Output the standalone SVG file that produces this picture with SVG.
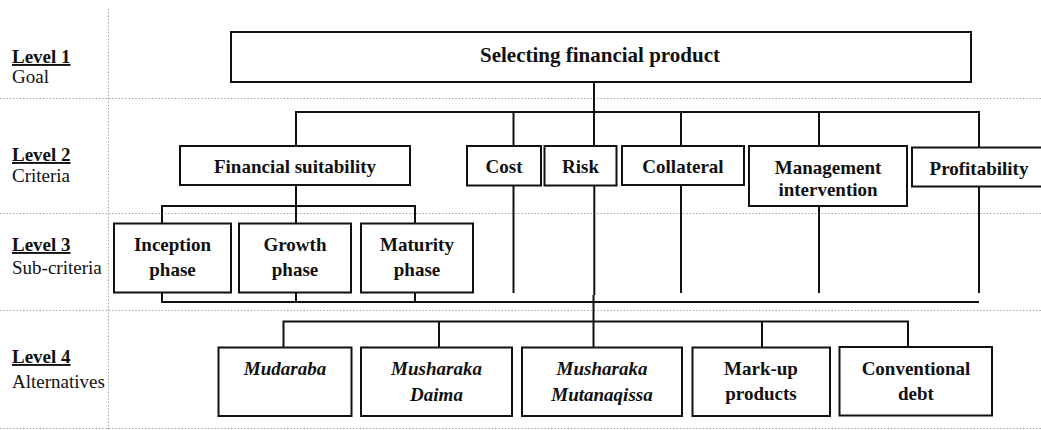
<svg xmlns="http://www.w3.org/2000/svg" width="1041" height="430" viewBox="0 0 1041 430">
  <style>
    .grid { stroke: #9a9a9a; stroke-width: 1; stroke-dasharray: 1.3 2; fill: none; }
    .box { fill: #fff; stroke: #111; stroke-width: 2; }
    .link { stroke: #111; stroke-width: 2; fill: none; }
    .lbl { font-family: "Liberation Serif", "Times New Roman", serif; font-size: 19px; fill: #111; text-anchor: middle; font-weight: bold; }
    .alt { font-style: italic; }
    .lvl { font-family: "Liberation Serif", "Times New Roman", serif; font-size: 19px; fill: #111; }
    .lvl-h { font-weight: bold; text-decoration: underline; }
  </style>

  <!-- level grid -->
  <g id="grid">
    <line class="grid" x1="108.5" y1="9" x2="108.5" y2="430"/>
    <line class="grid" x1="0" y1="98.5" x2="1041" y2="98.5"/>
    <line class="grid" x1="0" y1="213.5" x2="1041" y2="213.5"/>
    <line class="grid" x1="0" y1="310.5" x2="1041" y2="310.5"/>
    <line class="grid" x1="0" y1="428.5" x2="1041" y2="428.5"/>
  </g>

  <!-- level captions -->
  <g id="levels">
    <text class="lvl lvl-h" x="12" y="63">Level 1</text>
    <text class="lvl" x="12" y="83">Goal</text>
    <text class="lvl lvl-h" x="12" y="161">Level 2</text>
    <text class="lvl" x="12" y="182">Criteria</text>
    <text class="lvl lvl-h" x="12" y="251">Level 3</text>
    <text class="lvl" x="12" y="274">Sub-criteria</text>
    <text class="lvl lvl-h" x="12" y="363">Level 4</text>
    <text class="lvl" x="12" y="388">Alternatives</text>
  </g>

  <!-- connectors -->
  <g id="connectors">
    <!-- goal to criteria -->
    <line class="link" x1="594" y1="82" x2="594" y2="112"/>
    <polyline class="link" points="296,146 296,112 979,112 979,147"/>
    <line class="link" x1="513.5" y1="112" x2="513.5" y2="146"/>
    <line class="link" x1="594" y1="112" x2="594" y2="146"/>
    <line class="link" x1="681" y1="112" x2="681" y2="146"/>
    <line class="link" x1="819" y1="112" x2="819" y2="146"/>
    <!-- financial suitability to sub-criteria -->
    <line class="link" x1="296" y1="185" x2="296" y2="206"/>
    <polyline class="link" points="162,223 162,206 415,206 415,223"/>
    <line class="link" x1="296" y1="206" x2="296" y2="223"/>
    <!-- sub-criteria and criteria drops -->
    <polyline class="link" points="162,293 162,302 979,302"/>
    <line class="link" x1="296" y1="293" x2="296" y2="302"/>
    <line class="link" x1="415" y1="293" x2="415" y2="302"/>
    <line class="link" x1="513.5" y1="185" x2="513.5" y2="293"/>
    <line class="link" x1="594.3" y1="185" x2="594.3" y2="295"/>
    <line class="link" x1="681" y1="185" x2="681" y2="293"/>
    <line class="link" x1="819" y1="206" x2="819" y2="293"/>
    <line class="link" x1="979" y1="187" x2="979" y2="293"/>
    <!-- to alternatives -->
    <line class="link" x1="593.5" y1="295" x2="593.5" y2="347"/>
    <polyline class="link" points="283.5,347 283.5,321.5 908,321.5 908,347"/>
    <line class="link" x1="439" y1="321.5" x2="439" y2="347"/>
    <line class="link" x1="762" y1="321.5" x2="762" y2="347"/>
  </g>

  <!-- level 1 -->
  <g id="goal">
    <rect class="box" x="231" y="32" width="740" height="50"/>
    <text class="lbl" x="600" y="62" style="font-size:21px">Selecting financial product</text>
  </g>

  <!-- level 2 -->
  <g id="financial-suitability">
    <rect class="box" x="180" y="146" width="230" height="39"/>
    <text class="lbl" x="295" y="173">Financial suitability</text>
  </g>
  <g id="cost">
    <rect class="box" x="467" y="146" width="74" height="39.5"/>
    <text class="lbl" x="504" y="173">Cost</text>
  </g>
  <g id="risk">
    <rect class="box" x="544.5" y="146" width="72" height="39.5"/>
    <text class="lbl" x="580.5" y="173">Risk</text>
  </g>
  <g id="collateral">
    <rect class="box" x="622" y="146" width="122" height="39"/>
    <text class="lbl" x="683" y="173">Collateral</text>
  </g>
  <g id="management-intervention">
    <rect class="box" x="749" y="146" width="158" height="60"/>
    <text class="lbl" x="828" y="174">Management</text>
    <text class="lbl" x="828" y="196">intervention</text>
  </g>
  <g id="profitability">
    <rect class="box" x="912" y="147.5" width="135" height="39"/>
    <text class="lbl" x="979" y="175">Profitability</text>
  </g>

  <!-- level 3 -->
  <g id="inception-phase">
    <rect class="box" x="114" y="223.5" width="117" height="69"/>
    <text class="lbl" x="172.5" y="251">Inception</text>
    <text class="lbl" x="172.5" y="276">phase</text>
  </g>
  <g id="growth-phase">
    <rect class="box" x="239" y="223.5" width="112" height="69"/>
    <text class="lbl" x="295" y="251">Growth</text>
    <text class="lbl" x="295" y="276">phase</text>
  </g>
  <g id="maturity-phase">
    <rect class="box" x="361" y="223.5" width="112" height="69"/>
    <text class="lbl" x="417" y="251">Maturity</text>
    <text class="lbl" x="417" y="276">phase</text>
  </g>

  <!-- level 4 -->
  <g id="mudaraba">
    <rect class="box" x="218.5" y="347.5" width="133" height="68.5"/>
    <text class="lbl alt" x="285" y="375">Mudaraba</text>
  </g>
  <g id="musharaka-daima">
    <rect class="box" x="361" y="347.5" width="151" height="68.5"/>
    <text class="lbl alt" x="436.5" y="375">Musharaka</text>
    <text class="lbl alt" x="436.5" y="401">Daima</text>
  </g>
  <g id="musharaka-mutanaqissa">
    <rect class="box" x="522" y="347.5" width="160" height="68.5"/>
    <text class="lbl alt" x="602" y="375">Musharaka</text>
    <text class="lbl alt" x="602" y="401">Mutanaqissa</text>
  </g>
  <g id="mark-up-products">
    <rect class="box" x="692.5" y="347.5" width="137.5" height="68.5"/>
    <text class="lbl" x="761" y="375">Mark-up</text>
    <text class="lbl" x="761" y="400">products</text>
  </g>
  <g id="conventional-debt">
    <rect class="box" x="839.5" y="347" width="152.5" height="68.5"/>
    <text class="lbl" x="916" y="375">Conventional</text>
    <text class="lbl" x="916" y="400">debt</text>
  </g>
</svg>
